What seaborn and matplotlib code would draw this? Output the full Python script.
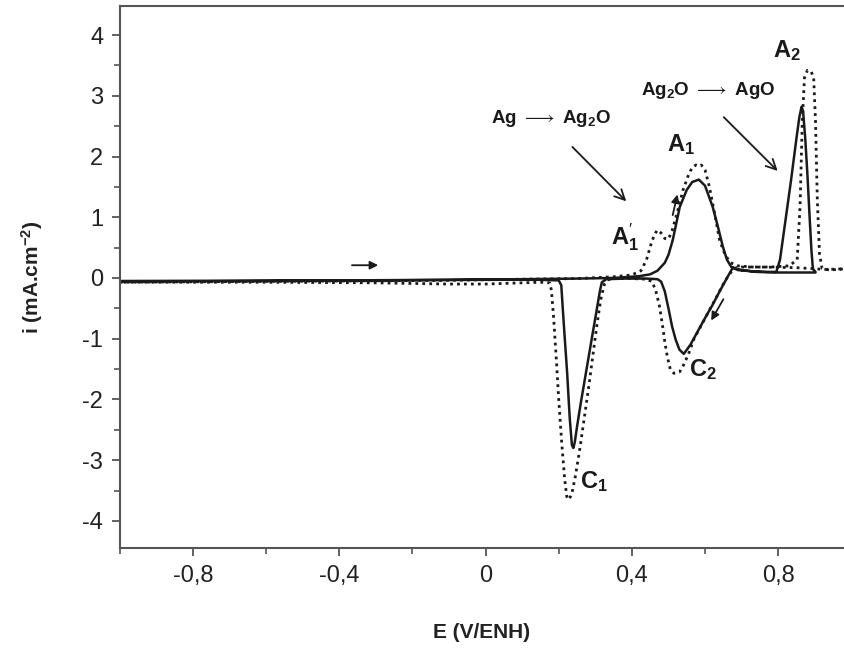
import numpy as np
import pandas as pd
import matplotlib
matplotlib.use("Agg")
import matplotlib.pyplot as plt
import seaborn as sns
from matplotlib.ticker import FixedLocator, MultipleLocator

# curva continua (varredura direta e inversa)
E_cont_ida = [-1.0, -0.7, -0.4, -0.1, 0.1, 0.25, 0.35, 0.42, 0.45, 0.47, 0.49, 0.5, 0.512,
              0.531, 0.55, 0.565, 0.583, 0.6, 0.621, 0.635, 0.649, 0.66, 0.672, 0.69, 0.73,
              0.77, 0.795, 0.805, 0.82, 0.835, 0.85, 0.858, 0.864, 0.868, 0.874, 0.88, 0.886,
              0.891, 0.895, 0.902]
i_cont_ida = [-0.05, -0.045, -0.04, -0.03, -0.02, -0.01, 0.0, 0.03, 0.06, 0.12, 0.25, 0.38, 0.63,
              1.17, 1.45, 1.58, 1.62, 1.52, 1.17, 0.85, 0.51, 0.3, 0.18, 0.13, 0.11,
              0.1, 0.1, 0.3, 0.95, 1.6, 2.3, 2.65, 2.82, 2.75, 2.3, 1.7, 1.0,
              0.45, 0.15, 0.1]
E_cont_volta = [0.902, 0.85, 0.8, 0.74, 0.7, 0.676, 0.66, 0.64, 0.62, 0.6, 0.58, 0.56, 0.542,
                0.53, 0.52, 0.51, 0.5, 0.49, 0.48, 0.47, 0.44, 0.38, 0.33, 0.318, 0.313, 0.3,
                0.29, 0.275, 0.26, 0.25, 0.244, 0.24, 0.236, 0.23, 0.223, 0.216, 0.211, 0.207,
                0.2, 0.15, 0.0, -0.3, -0.6, -1.0]
i_cont_volta = [0.09, 0.09, 0.09, 0.1, 0.13, 0.17, 0.0, -0.22, -0.45, -0.66, -0.88, -1.1, -1.25,
                -1.18, -1.02, -0.8, -0.5, -0.22, -0.06, -0.02, -0.01, -0.01, -0.02, -0.07, -0.2, -0.66,
                -1.01, -1.54, -2.07, -2.45, -2.7, -2.8, -2.75, -2.3, -1.56, -0.95, -0.5, -0.12,
                -0.04, -0.03, -0.03, -0.04, -0.05, -0.06]

# curva pontilhada
E_pont_ida = [-1.0, -0.7, -0.4, -0.1, 0.1, 0.25, 0.35, 0.4, 0.425, 0.44, 0.452, 0.462, 0.47,
              0.48, 0.49, 0.5, 0.51, 0.525, 0.54, 0.555, 0.565, 0.575, 0.583, 0.59, 0.6, 0.612,
              0.625, 0.64, 0.655, 0.67, 0.69, 0.73, 0.78, 0.83, 0.852, 0.86, 0.866, 0.872, 0.88,
              0.89, 0.897, 0.902, 0.907, 0.913, 0.92, 0.94, 0.98]
i_pont_ida = [-0.07, -0.06, -0.05, -0.04, -0.02, -0.01, 0.02, 0.05, 0.12, 0.3, 0.55, 0.72, 0.79,
              0.74, 0.65, 0.64, 0.78, 1.1, 1.45, 1.7, 1.82, 1.86, 1.84, 1.86, 1.78, 1.5,
              1.1, 0.62, 0.38, 0.25, 0.2, 0.18, 0.18, 0.2, 0.3, 1.2, 2.6, 3.3, 3.42,
              3.4, 3.3, 2.6, 1.3, 0.4, 0.16, 0.13, 0.15]
E_pont_volta = [0.98, 0.93, 0.85, 0.75, 0.7, 0.68, 0.665, 0.65, 0.63, 0.61, 0.59, 0.57, 0.555,
                0.54, 0.53, 0.515, 0.505, 0.497, 0.49, 0.483, 0.475, 0.465, 0.455, 0.44, 0.4,
                0.35, 0.335, 0.325, 0.315, 0.305, 0.295, 0.283, 0.27, 0.258, 0.246, 0.236, 0.228,
                0.222, 0.216, 0.208, 0.2, 0.193, 0.186, 0.18, 0.175, 0.15, 0.1, 0.0, -0.1, -0.3,
                -0.6, -1.0]
i_pont_volta = [0.15, 0.14, 0.17, 0.18, 0.18, 0.16, 0.05, -0.1, -0.33, -0.55, -0.78, -1.0, -1.25,
                -1.45, -1.55, -1.57, -1.5, -1.3, -1.05, -0.75, -0.45, -0.2, -0.06, -0.02, -0.01,
                -0.01, -0.03, -0.1, -0.35, -0.75, -1.2, -1.75, -2.3, -2.8, -3.25, -3.55, -3.65,
                -3.6, -3.3, -2.7, -2.0, -1.3, -0.65, -0.2, -0.08, -0.07, -0.08, -0.1, -0.1, -0.08,
                -0.07, -0.07]

xticks = [-0.8, -0.4, 0.0, 0.4, 0.8]
xtick_labels = ["-0,8", "-0,4", "0", "0,4", "0,8"]
yticks = [-4, -3, -2, -1, 0, 1, 2, 3, 4]

df_cont = pd.DataFrame({"E": E_cont_ida + E_cont_volta, "i": i_cont_ida + i_cont_volta})
df_pont = pd.DataFrame({"E": E_pont_ida + E_pont_volta, "i": i_pont_ida + i_pont_volta})

sns.set_style("ticks")
plt.rcParams["font.family"] = ["Liberation Sans", "DejaVu Sans"]
plt.rcParams["mathtext.fontset"] = "custom"
plt.rcParams["mathtext.rm"] = "Liberation Sans"
plt.rcParams["mathtext.it"] = "Liberation Sans:italic"
plt.rcParams["mathtext.bf"] = "Liberation Sans:bold"
plt.rcParams["mathtext.fallback"] = "stixsans"
plt.rcParams["axes.unicode_minus"] = False

cor = "#1a1a1a"
fig = plt.figure(figsize=(8.44, 6.55), dpi=100)
ax = fig.add_axes([0.142, 0.163, 0.858, 0.828])

sns.lineplot(data=df_cont, x="E", y="i", sort=False, estimator=None, color=cor, lw=1.8, ax=ax)
sns.lineplot(data=df_pont, x="E", y="i", sort=False, estimator=None, color=cor, lw=2.0,
             linestyle=(0, (1, 1.5)), ax=ax)

ax.set_xlim(-1.0, 0.98)
ax.set_ylim(-4.45, 4.48)
ax.xaxis.set_major_locator(FixedLocator(xticks))
ax.set_xticklabels(xtick_labels)
ax.xaxis.set_minor_locator(MultipleLocator(0.2))
ax.set_yticks(yticks)
ax.yaxis.set_minor_locator(MultipleLocator(0.5))
ax.tick_params(which="major", direction="out", length=6, width=1.3, color="#555",
               labelsize=17, labelcolor="#222", pad=6)
ax.tick_params(which="minor", direction="out", length=4, width=1.2, color="#555")

for s in ["left", "bottom", "top"]:
    ax.spines[s].set_color("#555")
    ax.spines[s].set_linewidth(1.5)
ax.spines["right"].set_visible(False)

ax.set_xlabel("E (V/ENH)", fontsize=15, fontweight="bold", color="#222", labelpad=26)
ax.set_ylabel(r"i (mA.cm$^\mathbf{-2}$)", fontsize=15, fontweight="bold", color="#222", labelpad=27)

# setas e rotulos
seta_aberta = dict(arrowstyle="->", lw=1.3, color=cor, mutation_scale=18)
seta_cheia = dict(arrowstyle="-|>", lw=1.3, color=cor, mutation_scale=12)
ax.annotate("", xy=(0.39, 1.23), xytext=(0.232, 2.19), arrowprops=seta_aberta)
ax.annotate("", xy=(0.804, 1.73), xytext=(0.646, 2.68), arrowprops=seta_aberta)
ax.annotate("", xy=(0.526, 1.42), xytext=(0.51, 0.99), arrowprops=seta_cheia)
ax.annotate("", xy=(0.613, -0.74), xytext=(0.654, -0.31), arrowprops=seta_cheia)
ax.annotate("", xy=(-0.286, 0.21), xytext=(-0.373, 0.21), arrowprops=seta_cheia)

kw = dict(ha="center", va="center", color=cor, fontweight="bold")
ax.text(0.18, 2.63, r"Ag $\longrightarrow$ Ag$_\mathbf{2}$O", fontsize=13.5, **kw)
ax.text(0.61, 3.09, r"Ag$_\mathbf{2}$O $\longrightarrow$ AgO", fontsize=13.5, **kw)
ax.text(0.825, 3.75, r"A$_\mathbf{2}$", fontsize=17, **kw)
ax.text(0.535, 2.2, r"A$_\mathbf{1}$", fontsize=17, **kw)
ax.text(0.38, 0.68, r"A$^{\prime}_\mathbf{1}$", fontsize=17, **kw)
ax.text(0.595, -1.5, r"C$_\mathbf{2}$", fontsize=17, **kw)
ax.text(0.295, -3.35, r"C$_\mathbf{1}$", fontsize=17, **kw)

fig.savefig("out.png", dpi=100)
